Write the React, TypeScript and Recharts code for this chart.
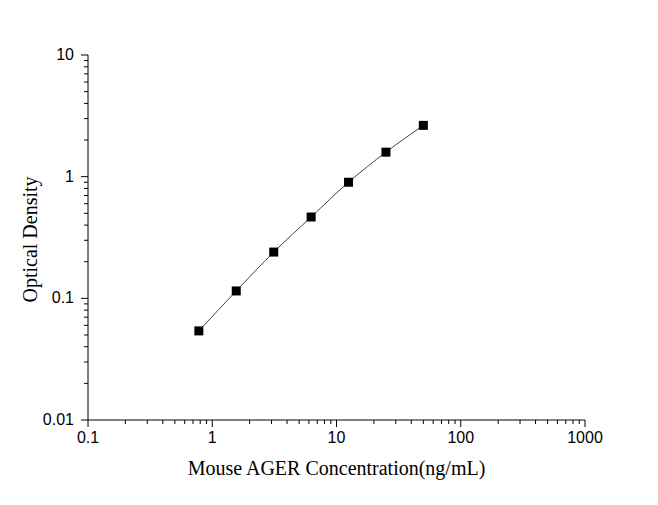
import { LineChart, Line, XAxis, YAxis, Label } from "recharts"

// standard curve readings
const concentration = [0.78, 1.56, 3.125, 6.25, 12.5, 25, 50]
const opticalDensity = [0.054, 0.115, 0.24, 0.466, 0.9, 1.59, 2.64]

const xMajor = [0.1, 1, 10, 100, 1000]
const xLabels = ["0.1", "1", "10", "100", "1000"]
const yMajor = [0.01, 0.1, 1, 10]
const yLabels = ["0.01", "0.1", "1", "10"]
const minorSteps = [2, 3, 4, 5, 6, 7, 8, 9]

const data = concentration.map((c, i) => ({ x: c, y: opticalDensity[i] }))

const withMinor = (major: number[]) => {
  const out: number[] = []
  major.forEach((m, i) => {
    out.push(m)
    if (i < major.length - 1) minorSteps.forEach((s) => out.push(m * s))
  })
  return out
}

const isMajor = (v: number) => Math.abs(Math.log10(v) - Math.round(Math.log10(v))) < 1e-9
const labelFor = (v: number, major: number[], labels: string[]) => {
  const idx = major.findIndex((m) => Math.abs(m - v) / m < 1e-9)
  return idx >= 0 ? labels[idx] : ""
}

const tickFont = { fontFamily: "'Liberation Sans', Arial, sans-serif", fontSize: 16, fill: "#000" }
const titleFont = { fontFamily: "'Liberation Serif', 'Times New Roman', serif", fontSize: 20, fill: "#000" }

const XTick = (props: any) => {
  const { x, y, payload } = props
  const major = isMajor(payload.value)
  return (
    <g>
      <line x1={x} x2={x} y1={y} y2={y + (major ? 7 : 4)} stroke="#000" strokeWidth={1} />
      {major && (
        <text x={x} y={y + 23} textAnchor="middle" {...tickFont}>
          {labelFor(payload.value, xMajor, xLabels)}
        </text>
      )}
    </g>
  )
}

const YTick = (props: any) => {
  const { x, y, payload } = props
  const major = isMajor(payload.value)
  return (
    <g>
      <line x1={x} x2={x - (major ? 7 : 4)} y1={y} y2={y} stroke="#000" strokeWidth={1} />
      {major && (
        <text x={x - 14} y={y + 5} textAnchor="end" {...tickFont}>
          {labelFor(payload.value, yMajor, yLabels)}
        </text>
      )}
    </g>
  )
}

const SquareDot = (props: any) => {
  const { cx, cy } = props
  if (cx == null || cy == null) return null
  return <rect x={cx - 4.5} y={cy - 4.5} width={9} height={9} fill="#000" />
}

export default function App() {
  return (
    <div style={{ position: "absolute", left: 0, top: 0, background: "#fff" }}>
      <LineChart width={658} height={505} data={data} margin={{ top: 55, right: 73, bottom: 0, left: 0 }}>
        <XAxis
          dataKey="x"
          type="number"
          scale="log"
          domain={[0.1, 1000]}
          ticks={withMinor(xMajor)}
          interval={0}
          allowDataOverflow
          height={85}
          tickSize={0}
          tickMargin={0}
          tickLine={false}
          axisLine={{ stroke: "#000", strokeWidth: 1 }}
          tick={<XTick />}
        >
          <Label
            content={(p: any) => {
              const vb = p.viewBox
              return (
                <text x={vb.x + vb.width / 2} y={475} textAnchor="middle" {...titleFont}>
                  Mouse AGER Concentration(ng/mL)
                </text>
              )
            }}
          />
        </XAxis>
        <YAxis
          dataKey="y"
          type="number"
          scale="log"
          domain={[0.01, 10]}
          ticks={withMinor(yMajor)}
          interval={0}
          allowDataOverflow
          width={88}
          tickSize={0}
          tickMargin={0}
          tickLine={false}
          axisLine={{ stroke: "#000", strokeWidth: 1 }}
          tick={<YTick />}
        >
          <Label
            content={(p: any) => {
              const vb = p.viewBox
              const cy = vb.y + vb.height / 2 + 2
              return (
                <text x={37} y={cy} textAnchor="middle" transform={`rotate(-90, 37, ${cy})`} {...titleFont}>
                  Optical Density
                </text>
              )
            }}
          />
        </YAxis>
        <Line
          type="monotone"
          dataKey="y"
          stroke="#444"
          strokeWidth={1}
          dot={<SquareDot />}
          activeDot={false}
          isAnimationActive={false}
        />
      </LineChart>
    </div>
  )
}
